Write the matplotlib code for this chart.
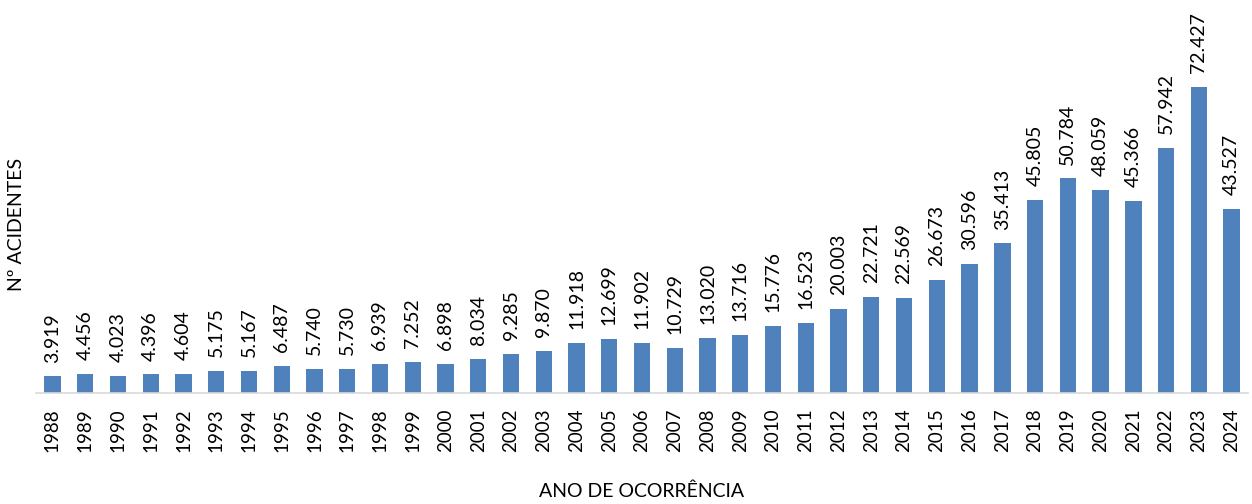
import matplotlib.pyplot as plt
import numpy as np

anos = [str(a) for a in range(1988, 2025)]
acidentes = [3919, 4456, 4023, 4396, 4604, 5175, 5167, 6487, 5740, 5730,
             6939, 7252, 6898, 8034, 9285, 9870, 11918, 12699, 11902, 10729,
             13020, 13716, 15776, 16523, 20003, 22721, 22569, 26673, 30596, 35413,
             45805, 50784, 48059, 45366, 57942, 72427, 43527]

plt.rcParams['font.family'] = ['Lato', 'DejaVu Sans']

fig = plt.figure(figsize=(12.52, 5.04), dpi=100)
ax = fig.add_axes([0.0288, 0.2202, 0.968, 0.6706])

x = np.arange(len(anos))
bars = ax.bar(x, acidentes, width=0.5, color='#4F81BD')

for xi, v in zip(x, acidentes):
    ax.annotate(f"{v:,}".replace(',', '.'), (xi, v), xytext=(0, 10),
                textcoords='offset points', rotation=90, ha='center', va='bottom',
                fontsize=14)

ax.set_xlim(-0.5, len(anos) - 0.5)
ax.set_ylim(0, 80000)
ax.set_xticks(x)
ax.set_xticklabels(anos, rotation=90, fontsize=13.5)
ax.tick_params(axis='x', length=0, pad=11)
ax.set_yticks([])

for s in ['top', 'right', 'left']:
    ax.spines[s].set_visible(False)
ax.spines['bottom'].set_color('#d9d9d9')
ax.spines['bottom'].set_linewidth(1.2)

ax.set_ylabel('Nº ACIDENTES', fontsize=14, labelpad=8)
ax.set_xlabel('ANO DE OCORRÊNCIA', fontsize=14, labelpad=22)

plt.savefig('out.png', dpi=100)
